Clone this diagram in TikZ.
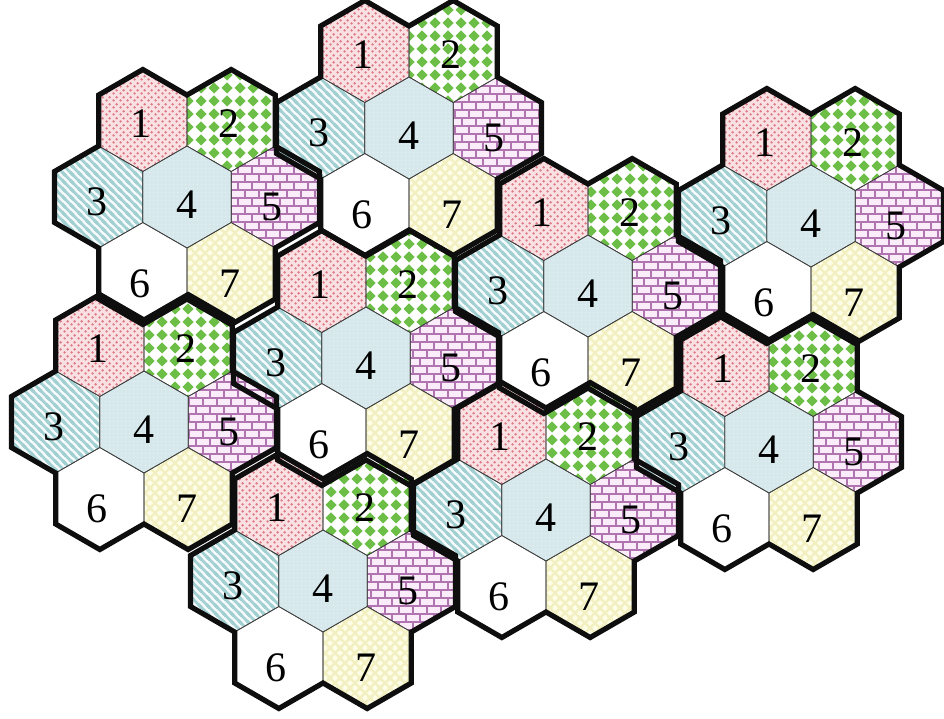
\documentclass[tikz,border=0pt]{standalone}
\usepackage{fontspec}
\setmainfont{Liberation Serif}
\usetikzlibrary{patterns}

\definecolor{pinkbg}{RGB}{249,224,226}
\definecolor{pinkdot}{RGB}{222,122,134}
\definecolor{grn}{RGB}{108,190,70}
\definecolor{tealstr}{RGB}{162,208,210}
\definecolor{tealbg}{RGB}{244,250,250}
\definecolor{cfourbg}{RGB}{214,232,235}
\definecolor{cfourdot}{RGB}{232,243,245}
\definecolor{brickbg}{RGB}{250,236,248}
\definecolor{brickln}{RGB}{176,116,176}
\definecolor{ylbg}{RGB}{253,253,232}
\definecolor{ylln}{RGB}{242,240,192}
\definecolor{edgeblk}{RGB}{14,14,14}

\pgfdeclarepatternformonly{pkdots}{\pgfqpoint{0pt}{0pt}}{\pgfqpoint{7pt}{7pt}}{\pgfqpoint{7pt}{7pt}}{%
  \pgfpathcircle{\pgfqpoint{1.75pt}{1.75pt}}{1.45pt}%
  \pgfpathcircle{\pgfqpoint{5.25pt}{5.25pt}}{1.45pt}%
  \pgfusepath{fill}}

\pgfdeclarepatternformonly{grdiam}{\pgfqpoint{0pt}{0pt}}{\pgfqpoint{13pt}{13pt}}{\pgfqpoint{13pt}{13pt}}{%
  \pgfpathmoveto{\pgfqpoint{6.5pt}{0.6pt}}%
  \pgfpathlineto{\pgfqpoint{12.4pt}{6.5pt}}%
  \pgfpathlineto{\pgfqpoint{6.5pt}{12.4pt}}%
  \pgfpathlineto{\pgfqpoint{0.6pt}{6.5pt}}%
  \pgfpathclose
  \pgfusepath{fill}}

\pgfdeclarepatternformonly{tlstripes}{\pgfqpoint{-2pt}{-2pt}}{\pgfqpoint{10pt}{10pt}}{\pgfqpoint{8pt}{8pt}}{%
  \pgfsetlinewidth{2.6pt}%
  \pgfpathmoveto{\pgfqpoint{-2pt}{10pt}}\pgfpathlineto{\pgfqpoint{10pt}{-2pt}}%
  \pgfpathmoveto{\pgfqpoint{-2pt}{2pt}}\pgfpathlineto{\pgfqpoint{2pt}{-2pt}}%
  \pgfpathmoveto{\pgfqpoint{6pt}{10pt}}\pgfpathlineto{\pgfqpoint{10pt}{6pt}}%
  \pgfusepath{stroke}}

\pgfdeclarepatternformonly{ltdots}{\pgfqpoint{0pt}{0pt}}{\pgfqpoint{4pt}{4pt}}{\pgfqpoint{4pt}{4pt}}{%
  \pgfpathcircle{\pgfqpoint{2pt}{2pt}}{0.8pt}%
  \pgfusepath{fill}}

\pgfdeclarepatternformonly{pbricks}{\pgfqpoint{-1pt}{-1pt}}{\pgfqpoint{15pt}{17pt}}{\pgfqpoint{14pt}{16pt}}{%
  \pgfsetlinewidth{1.4pt}%
  \pgfpathmoveto{\pgfqpoint{-1pt}{0pt}}\pgfpathlineto{\pgfqpoint{15pt}{0pt}}%
  \pgfpathmoveto{\pgfqpoint{-1pt}{8pt}}\pgfpathlineto{\pgfqpoint{15pt}{8pt}}%
  \pgfpathmoveto{\pgfqpoint{-1pt}{16pt}}\pgfpathlineto{\pgfqpoint{15pt}{16pt}}%
  \pgfpathmoveto{\pgfqpoint{0pt}{0pt}}\pgfpathlineto{\pgfqpoint{0pt}{8pt}}%
  \pgfpathmoveto{\pgfqpoint{14pt}{0pt}}\pgfpathlineto{\pgfqpoint{14pt}{8pt}}%
  \pgfpathmoveto{\pgfqpoint{7pt}{8pt}}\pgfpathlineto{\pgfqpoint{7pt}{16pt}}%
  \pgfusepath{stroke}}

\pgfdeclarepatternformonly{ycross}{\pgfqpoint{-2pt}{-2pt}}{\pgfqpoint{12pt}{12pt}}{\pgfqpoint{10pt}{10pt}}{%
  \pgfsetlinewidth{2.4pt}%
  \pgfpathmoveto{\pgfqpoint{-2pt}{12pt}}\pgfpathlineto{\pgfqpoint{12pt}{-2pt}}%
  \pgfpathmoveto{\pgfqpoint{-2pt}{2pt}}\pgfpathlineto{\pgfqpoint{2pt}{-2pt}}%
  \pgfpathmoveto{\pgfqpoint{8pt}{12pt}}\pgfpathlineto{\pgfqpoint{12pt}{8pt}}%
  \pgfpathmoveto{\pgfqpoint{-2pt}{-2pt}}\pgfpathlineto{\pgfqpoint{12pt}{12pt}}%
  \pgfpathmoveto{\pgfqpoint{8pt}{-2pt}}\pgfpathlineto{\pgfqpoint{12pt}{2pt}}%
  \pgfpathmoveto{\pgfqpoint{-2pt}{8pt}}\pgfpathlineto{\pgfqpoint{2pt}{12pt}}%
  \pgfusepath{stroke}}

% one hexagon (pointy top), style #1, centre (#2,#3) relative to the cluster
\newcommand\hexcell[3]{%
  \path[#1] ({#2},{#3-51}) -- ({#2+44.17},{#3-25.5}) -- ({#2+44.17},{#3+25.5})
    -- ({#2},{#3+51}) -- ({#2-44.17},{#3+25.5}) -- ({#2-44.17},{#3-25.5}) -- cycle;}

\begin{document}
\begin{tikzpicture}[x=1pt,y=-1pt,
  cA/.style={fill=pinkbg, postaction={pattern=pkdots, pattern color=pinkdot}},
  cB/.style={fill=white, postaction={pattern=grdiam, pattern color=grn}},
  cC/.style={fill=tealbg, postaction={pattern=tlstripes, pattern color=tealstr}},
  cD/.style={fill=cfourbg, postaction={pattern=ltdots, pattern color=cfourdot}},
  cE/.style={fill=brickbg, postaction={pattern=pbricks, pattern color=brickln}},
  cF/.style={fill=white},
  cG/.style={fill=ylbg, postaction={pattern=ycross, pattern color=ylln}},
  thinedge/.style={draw=black!75, line width=0.7pt},
  outline/.style={draw=edgeblk, line width=5.2pt, line join=miter},
  lbl/.style={font=\fontsize{42}{42}\selectfont, inner sep=0pt, text=black}]
\useasboundingbox (0,0) rectangle (944,718);
\def\clusters{1/187/197, 2/409/128, 3/811/216, 4/588/286, 5/366/358, 6/144/422, 7/546/510, 8/769/442, 9/323/581}

% pass 1: patterned cells
\foreach \k/\cx/\cy in \clusters {
  \begin{scope}[shift={(\cx,\cy)}]
    \hexcell{cA}{-44.17}{-76.5}
    \hexcell{cB}{44.17}{-76.5}
    \hexcell{cC}{-88.33}{0}
    \hexcell{cD}{0}{0}
    \hexcell{cE}{88.33}{0}
    \hexcell{cF}{-44.17}{76.5}
    \hexcell{cG}{44.17}{76.5}
  \end{scope}
}
% pass 2: thin cell borders
\foreach \k/\cx/\cy in \clusters {
  \begin{scope}[shift={(\cx,\cy)}]
    \hexcell{thinedge}{-44.17}{-76.5}
    \hexcell{thinedge}{44.17}{-76.5}
    \hexcell{thinedge}{-88.33}{0}
    \hexcell{thinedge}{0}{0}
    \hexcell{thinedge}{88.33}{0}
    \hexcell{thinedge}{-44.17}{76.5}
    \hexcell{thinedge}{44.17}{76.5}
  \end{scope}
}
% pass 3: thick cluster outlines
\foreach \k/\cx/\cy in \clusters {
  \begin{scope}[shift={(\cx,\cy)}]
    \draw[outline] (-44.17,-127.5) -- (0,-102) -- (44.17,-127.5) -- (88.33,-102)
      -- (88.33,-51) -- (132.5,-25.5) -- (132.5,25.5) -- (88.33,51) -- (88.33,102)
      -- (44.17,127.5) -- (0,102) -- (-44.17,127.5) -- (-88.33,102) -- (-88.33,51)
      -- (-132.5,25.5) -- (-132.5,-25.5) -- (-88.33,-51) -- (-88.33,-102) -- cycle;
  \end{scope}
}
% pass 4: cell numbers
\foreach \k/\cx/\cy in \clusters {
  \begin{scope}[shift={(\cx,\cy)}]
    \node[lbl] (n\k-1) at (-46.2,-73.5) {1};
    \node[lbl] (n\k-2) at (42.2,-73.5) {2};
    \node[lbl] (n\k-3) at (-90.3,5) {3};
    \node[lbl] (n\k-4) at (0,8) {4};
    \node[lbl] (n\k-5) at (85.3,10) {5};
    \node[lbl] (n\k-6) at (-47.2,86.5) {6};
    \node[lbl] (n\k-7) at (43.2,86.5) {7};
  \end{scope}
}
\end{tikzpicture}
\end{document}
